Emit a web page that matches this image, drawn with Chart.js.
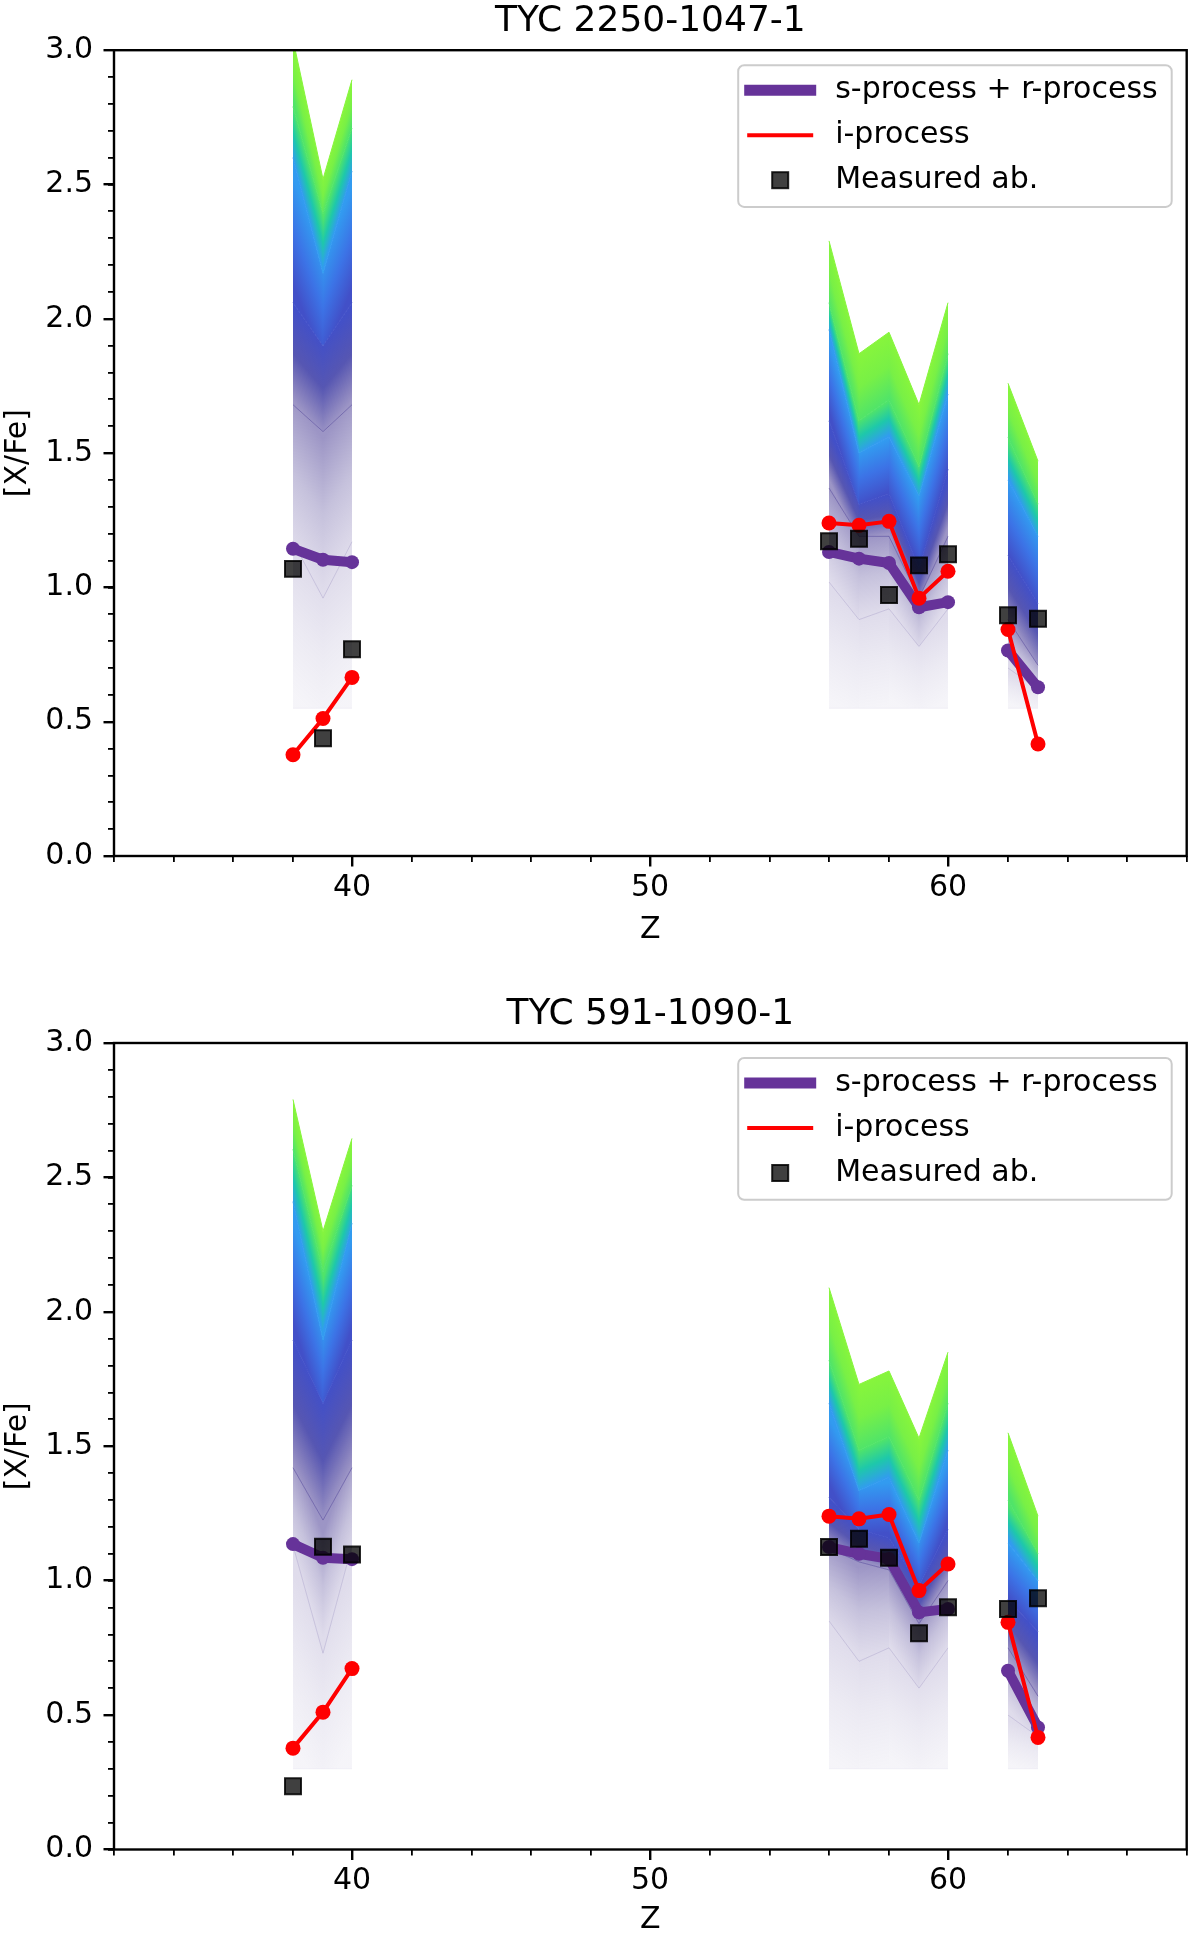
<!DOCTYPE html>
<html>
<head>
<meta charset="utf-8">
<title>TYC 2250-1047-1 / TYC 591-1090-1</title>
<script src="https://cdn.jsdelivr.net/npm/chart.js@4.4.1/dist/chart.umd.min.js"></script>
<style>
	html, body { margin: 0; padding: 0; background: #fff; overflow: hidden; }
	canvas { display: block; }
</style>
</head>
<body>
<canvas id="panel-top" width="1200" height="967"></canvas>
<canvas id="panel-bottom" width="1200" height="968"></canvas>
<script>
// Z of the elements that are plotted (Sr Y Zr / Ba La Ce Pr Nd / Sm Eu)
var elementZ = [38, 39, 40, 56, 57, 58, 59, 60, 62, 63];

var xMajorTicks = [40, 50, 60];
var xMinorTicks = [32, 34, 36, 38, 40, 42, 44, 46, 48, 50, 52, 54, 56, 58, 60, 62, 64, 66, 68];
var yMajorTicks = [0.0, 0.5, 1.0, 1.5, 2.0, 2.5, 3.0];
var yMinorTicks = [0.0, 0.1, 0.2, 0.3, 0.4, 0.5, 0.6, 0.7, 0.8, 0.9, 1.0, 1.1, 1.2, 1.3, 1.4, 1.5,
	1.6, 1.7, 1.8, 1.9, 2.0, 2.1, 2.2, 2.3, 2.4, 2.5, 2.6, 2.7, 2.8, 2.9, 3.0];

// TYC 2250-1047-1
var srTop  = [1.144, 1.103, 1.094, 1.132, 1.107, 1.091, 0.926, 0.945, 0.765, 0.628];
var iTop   = [0.377, 0.512, 0.665, 1.240, 1.231, 1.246, 0.960, 1.060, 0.843, 0.417];
var obsTop = [1.069, 0.438, 0.770, 1.172, 1.181, 0.972, 1.082, 1.123, 0.896, 0.883];
// dilution fan, read as level lines from top edge to bottom edge
var fanTopL0 = [3.04, 2.52, 2.89, 2.29, 1.87, 1.95, 1.68, 2.06, 1.76, 1.47];
var fanTopL1 = [2.79, 2.39, 2.71, 2.06, 1.62, 1.70, 1.45, 1.87, 1.56, 1.31];
var fanTopL2 = [2.60, 2.17, 2.55, 1.96, 1.50, 1.56, 1.34, 1.72, 1.40, 1.19];
var fanTopL3 = [2.06, 1.90, 2.06, 1.62, 1.31, 1.35, 1.07, 1.44, 1.12, 0.94];
var fanTopL4 = [1.68, 1.58, 1.68, 1.37, 1.19, 1.19, 0.96, 1.19, 0.88, 0.71];
var fanTopL5 = [1.17, 0.96, 1.17, 1.02, 0.88, 0.92, 0.78, 0.92, 0.70, 0.62];
var fanTopL6 = [0.55, 0.55, 0.55, 0.55, 0.55, 0.55, 0.55, 0.55, 0.55, 0.55];

// TYC 591-1090-1
var srBot  = [1.136, 1.085, 1.080, 1.125, 1.100, 1.081, 0.882, 0.895, 0.665, 0.454];
var iBot   = [0.377, 0.511, 0.673, 1.240, 1.230, 1.246, 0.963, 1.062, 0.845, 0.417];
var obsBot = [0.235, 1.126, 1.097, 1.125, 1.156, 1.085, 0.804, 0.901, 0.895, 0.935];
var fanBotL0 = [2.79, 2.30, 2.645, 2.09, 1.73, 1.78, 1.53, 1.85, 1.55, 1.24];
var fanBotL1 = [2.605, 2.15, 2.47, 1.82, 1.485, 1.535, 1.30, 1.66, 1.30, 1.10];
var fanBotL2 = [2.41, 1.895, 2.33, 1.66, 1.335, 1.385, 1.14, 1.485, 1.14, 1.00];
var fanBotL3 = [1.895, 1.66, 1.895, 1.31, 1.19, 1.16, 0.98, 1.19, 0.93, 0.81];
var fanBotL4 = [1.42, 1.225, 1.42, 1.12, 1.07, 1.04, 0.84, 1.00, 0.75, 0.57];
var fanBotL5 = [1.13, 0.73, 1.13, 0.85, 0.70, 0.75, 0.60, 0.75, 0.50, 0.42];
var fanBotL6 = [0.30, 0.30, 0.30, 0.30, 0.30, 0.30, 0.30, 0.30, 0.30, 0.30];

// colour of each fan level line, plus a middle stop for the band just below it
var fanColors = ['rgb(135,245,60)', 'rgb(80,228,105)', 'rgb(50,155,240)', 'rgb(66,80,200)',
	'rgba(75,62,150,0.55)', 'rgba(110,95,165,0.22)', 'rgba(130,120,175,0.08)'];
var fanMid = ['rgb(120,240,70)', 'rgb(30,200,170)', 'rgb(60,115,230)', 'rgba(68,68,170,0.9)',
	'rgba(90,78,155,0.35)', 'rgba(120,108,170,0.14)'];

var FONT = "'DejaVu Sans', 'Liberation Sans', sans-serif";
Chart.defaults.font.family = FONT;
Chart.defaults.color = '#000';

function toPoints(values)
{
	var pts = [];
	for (var i = 0; i < elementZ.length; i++) {
		if (i > 0 && elementZ[i] - elementZ[i - 1] > 1)
			pts.push({x: elementZ[i - 1] + 1, y: null});
		pts.push({x: elementZ[i], y: values[i]});
	}
	return pts;
}

function tickList(list)
{
	return function (scale) {
		scale.ticks = list.map(function (v) { return {value: v}; });
	};
}

// gradient across one band segment, running perpendicular to its edges
function bandGradient(c, k)
{
	var chart = c.chart;
	var below = chart.getDatasetMeta(c.datasetIndex + 1).data;
	var a = c.p0, b = c.p1, d0 = below[c.p0DataIndex], d1 = below[c.p1DataIndex];
	if (!a || !b || !d0 || !d1) return fanColors[k];

	var ex = (b.x - a.x) + (d1.x - d0.x), ey = (b.y - a.y) + (d1.y - d0.y);
	var len = Math.sqrt(ex * ex + ey * ey) || 1;
	var nx = -ey / len, ny = ex / len;
	if (ny < 0) { nx = -nx; ny = -ny; }
	var mx = (a.x + b.x) / 2, my = (a.y + b.y) / 2;
	var dist = ((d0.x + d1.x) / 2 - mx) * nx + ((d0.y + d1.y) / 2 - my) * ny;
	if (!(dist > 0.5)) dist = 0.5;

	var g = chart.ctx.createLinearGradient(mx, my, mx + nx * dist, my + ny * dist);
	g.addColorStop(0, fanColors[k]);
	if (fanMid[k]) g.addColorStop(0.5, fanMid[k]);
	g.addColorStop(1, fanColors[k + 1]);
	return g;
}

function fanDatasets(levels)
{
	return levels.map(function (lvl, k) {
		var last = (k === levels.length - 1);
		var ds = {
			label: 'fan ' + k,
			data: toPoints(lvl),
			xAxisID: 'x', yAxisID: 'y',
			borderColor: fanColors[k],
			borderWidth: 1,
			backgroundColor: fanColors[k],
			fill: last ? false : '+1',
			pointRadius: 0,
			order: 10 + k
		};
		if (!last) {
			ds.segment = {
				backgroundColor: function (c) { return bandGradient(c, k); },
				borderDashOffset: function (c) { return c.p0DataIndex; }
			};
		}
		return ds;
	});
}

var framePlugin = {
	id: 'frame',
	afterDatasetsDraw: function (chart) {
		var a = chart.chartArea, ctx = chart.ctx;
		ctx.save();
		ctx.strokeStyle = '#000';
		ctx.lineWidth = 2.4;
		ctx.strokeRect(a.left, a.top, a.right - a.left, a.bottom - a.top);
		ctx.restore();
	}
};

var legendPlugin = {
	id: 'legendBox',
	afterDraw: function (chart) {
		var a = chart.chartArea, ctx = chart.ctx;
		var w = 433.5, h = 141.7, r = 6;
		var x0 = a.right - 15 - w, y0 = a.top + 15;
		var cx = x0 + 42, tx = x0 + 97;
		var rows = [y0 + 25, y0 + 70, y0 + 115];

		ctx.save();
		ctx.beginPath();
		ctx.moveTo(x0 + r, y0);
		ctx.arcTo(x0 + w, y0, x0 + w, y0 + h, r);
		ctx.arcTo(x0 + w, y0 + h, x0, y0 + h, r);
		ctx.arcTo(x0, y0 + h, x0, y0, r);
		ctx.arcTo(x0, y0, x0 + w, y0, r);
		ctx.closePath();
		ctx.fillStyle = 'rgba(255,255,255,0.8)';
		ctx.fill();
		ctx.strokeStyle = '#cccccc';
		ctx.lineWidth = 2;
		ctx.stroke();

		ctx.lineCap = 'butt';
		ctx.strokeStyle = '#663399';
		ctx.lineWidth = 11;
		ctx.beginPath(); ctx.moveTo(cx - 36, rows[0]); ctx.lineTo(cx + 36, rows[0]); ctx.stroke();

		ctx.strokeStyle = '#ff0000';
		ctx.lineWidth = 4;
		ctx.beginPath(); ctx.moveTo(cx - 33, rows[1]); ctx.lineTo(cx + 33, rows[1]); ctx.stroke();

		ctx.fillStyle = 'rgba(0,0,0,0.75)';
		ctx.strokeStyle = 'rgba(0,0,0,0.85)';
		ctx.lineWidth = 2;
		ctx.fillRect(cx - 8, rows[2] - 8, 16, 16);
		ctx.strokeRect(cx - 8, rows[2] - 8, 16, 16);

		ctx.fillStyle = '#000';
		ctx.font = '30px ' + FONT;
		ctx.textAlign = 'left';
		ctx.textBaseline = 'middle';
		ctx.fillText('s-process + r-process', tx, rows[0]);
		ctx.fillText('i-process', tx, rows[1]);
		ctx.fillText('Measured ab.', tx, rows[2]);
		ctx.restore();
	}
};

function buildPanel(canvasId, p)
{
	var datasets = [
		{
			label: 'Measured ab.',
			data: toPoints(p.measured),
			xAxisID: 'x', yAxisID: 'y',
			showLine: false,
			pointStyle: 'rect',
			pointRadius: 11.3,
			pointBackgroundColor: 'rgba(0,0,0,0.75)',
			pointBorderColor: 'rgba(0,0,0,0.85)',
			pointBorderWidth: 2,
			order: 0
		},
		{
			label: 'i-process',
			data: toPoints(p.iProc),
			xAxisID: 'x', yAxisID: 'y',
			borderColor: '#ff0000',
			borderWidth: 4,
			pointRadius: 7.5,
			pointBackgroundColor: '#ff0000',
			pointBorderWidth: 0,
			fill: false,
			order: 1
		},
		{
			label: 's-process + r-process',
			data: toPoints(p.srProc),
			xAxisID: 'x', yAxisID: 'y',
			borderColor: '#663399',
			borderWidth: 10,
			borderJoinStyle: 'round',
			pointRadius: 7,
			pointBackgroundColor: '#663399',
			pointBorderWidth: 0,
			fill: false,
			order: 2
		}
	].concat(fanDatasets(p.fan));

	var tickFont = {family: FONT, size: 30, lineHeight: 1.2};

	return new Chart(document.getElementById(canvasId), {
		type: 'line',
		data: {datasets: datasets},
		plugins: [framePlugin, legendPlugin],
		options: {
			responsive: false,
			devicePixelRatio: 1,
			animation: false,
			events: [],
			layout: {padding: {left: 0, right: 6, top: 0, bottom: 0}},
			plugins: {
				legend: {display: false},
				tooltip: {enabled: false},
				title: {
					display: true,
					text: p.title,
					fullSize: false,
					color: '#000',
					font: {family: FONT, size: 36, weight: 'normal', lineHeight: 1.2},
					padding: {top: p.titleTop, bottom: 7}
				}
			},
			scales: {
				x: {
					type: 'linear', axis: 'x', position: 'bottom', weight: 1,
					min: 32, max: 68,
					alignToPixels: true,   // whole-pixel Z columns, so the band fills meet without seams
					afterBuildTicks: tickList(xMajorTicks),
					afterFit: function (s) { s.height = p.xHeight; },
					grid: {drawOnChartArea: false, color: '#000', lineWidth: 2.4, tickLength: 10.5},
					border: {display: false},
					ticks: {font: tickFont, color: '#000', padding: 3.5, maxRotation: 0, autoSkip: false,
						callback: function (v) { return String(v); }},
					title: {display: true, text: 'Z', color: '#000',
						font: {family: FONT, size: 30, lineHeight: 1}, padding: {top: 0, bottom: p.zPad}}
				},
				xMinor: {
					type: 'linear', axis: 'x', position: 'bottom', weight: 0,
					min: 32, max: 68,
					alignToPixels: true,
					afterBuildTicks: tickList(xMinorTicks),
					afterFit: function (s) { s.height = 0; },
					grid: {drawOnChartArea: false, color: '#000', lineWidth: 1.8, tickLength: 6},
					border: {display: false},
					ticks: {display: false}
				},
				y: {
					type: 'linear', axis: 'y', position: 'left', weight: 1,
					min: 0, max: 3,
					afterBuildTicks: tickList(yMajorTicks),
					afterFit: function (s) { s.width = 114; },
					grid: {drawOnChartArea: false, color: '#000', lineWidth: 2.4, tickLength: 10.5},
					border: {display: false},
					ticks: {font: tickFont, color: '#000', padding: 10.5, autoSkip: false,
						callback: function (v) { return Number(v).toFixed(1); }},
					title: {display: true, text: '[X/Fe]', color: '#000',
						font: {family: FONT, size: 30, lineHeight: 1}, padding: {top: 3.5, bottom: 0}}
				},
				yMinor: {
					type: 'linear', axis: 'y', position: 'left', weight: 0,
					min: 0, max: 3,
					afterBuildTicks: tickList(yMinorTicks),
					afterFit: function (s) { s.width = 0; },
					grid: {drawOnChartArea: false, color: '#000', lineWidth: 1.8, tickLength: 6},
					border: {display: false},
					ticks: {display: false}
				}
			}
		}
	});
}

buildPanel('panel-top', {
	title: 'TYC 2250-1047-1',
	titleTop: 0,
	xHeight: 111,
	zPad: 22,
	srProc: srTop,
	iProc: iTop,
	measured: obsTop,
	fan: [fanTopL0, fanTopL1, fanTopL2, fanTopL3, fanTopL4, fanTopL5, fanTopL6]
});

buildPanel('panel-bottom', {
	title: 'TYC 591-1090-1',
	titleTop: 25.8,
	xHeight: 85.5,
	zPad: 0,
	srProc: srBot,
	iProc: iBot,
	measured: obsBot,
	fan: [fanBotL0, fanBotL1, fanBotL2, fanBotL3, fanBotL4, fanBotL5, fanBotL6]
});
</script>
</body>
</html>
